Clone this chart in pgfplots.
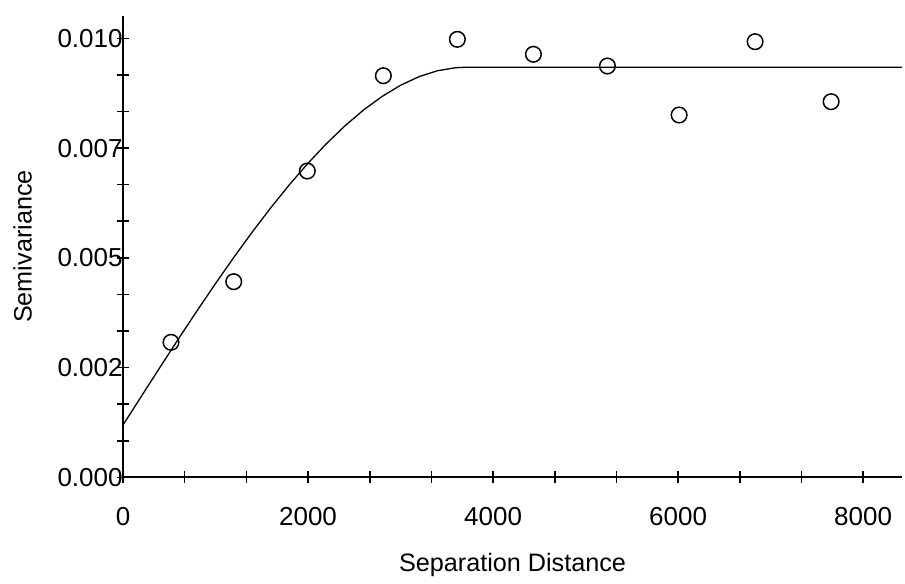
\documentclass[border=0pt]{standalone}
\usepackage{fontspec}
\setmainfont{Liberation Sans}
\usepackage{pgfplots}
\pgfplotsset{compat=1.18}
\begin{document}
\begin{tikzpicture}
\path (0,0) rectangle (452.5pt,289pt);
\begin{axis}[
  at={(61.5pt,50.35pt)}, anchor=south west,
  scale only axis, width=389.5pt, height=230.8pt,
  xmin=0, xmax=8420, ymin=0, ymax=0.010515,
  axis x line=bottom, axis y line=left,
  axis line style={-, line width=0.9pt},
  xtick={0,2000,4000,6000,8000},
  xticklabels={0,2000,4000,6000,8000},
  ytick={0,0.0025,0.005,0.0075,0.01},
  yticklabels={0.000,0.002,0.005,0.007,0.010},
  scaled y ticks=false, scaled x ticks=false,
  minor x tick num=2, minor y tick num=2,
  tick align=center,
  major tick length=6pt, minor tick length=6pt,
  every tick/.style={black, line width=0.8pt},
  ticklabel style={font=\fontsize{13}{15}\selectfont},
  xticklabel style={anchor=north, inner sep=0pt, yshift=-11.9pt},
  yticklabel style={anchor=east, inner sep=0pt, xshift=3pt},
  xlabel={Separation Distance},
  ylabel={Semivariance},
  label style={font=\fontsize{12.6}{15}\selectfont},
  xlabel style={at={(axis description cs:0.5,0)}, anchor=base, yshift=-47.2pt},
  ylabel style={at={(axis description cs:0,0.5)}, anchor=center, yshift=50.25pt},
  clip=false,
]
\addplot[black, line width=0.65pt, no markers] coordinates {
(0,0.00119) (200,0.001850) (400,0.002506) (600,0.003155) (800,0.003792)
(1000,0.004414) (1200,0.005016) (1400,0.005595) (1600,0.006147)
(1800,0.006668) (2000,0.007155) (2200,0.007602) (2400,0.008008)
(2600,0.008367) (2800,0.008675) (3000,0.008930) (3200,0.009127)
(3400,0.009262) (3600,0.009331) (3700,0.00934) (8420,0.00934)
};
\addplot[only marks, mark=o, mark size=3.9pt, black, line width=0.75pt] coordinates {
(519,0.003075) (1197,0.004456) (1992,0.006977) (2814,0.009148)
(3614,0.009977) (4436,0.009636) (5236,0.009369) (6011,0.008253)
(6832,0.009923) (7654,0.008556)
};
\end{axis}
\end{tikzpicture}
\end{document}
